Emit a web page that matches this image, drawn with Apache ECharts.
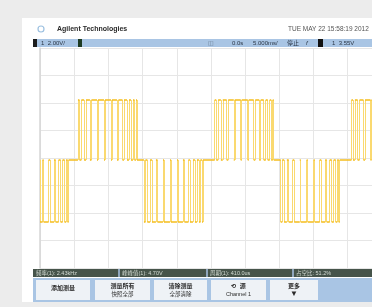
<!DOCTYPE html>
<html>
<head>
<meta charset="utf-8">
<script src="https://cdn.jsdelivr.net/npm/echarts@6/dist/echarts.min.js"></script>
<style>html,body{margin:0;padding:0;background:#ececec}#c{width:372px;height:307px}</style>
</head>
<body>
<div id="c"></div>
<script>
// ---- data (time in divisions, voltage in divisions) ----
const timeMin = 0;
const timeMax = 9.71;
const voltMin = -4;
const voltMax = 4;
const highLevel = 2.11;
const zeroLevel = -0.07;
const lowLevel = -2.33;

const negPulses1 = [[0,0.076],[0.105,0.251],[0.295,0.412],[0.456,0.544],[0.602,0.661],[0.719,0.763],[0.807,0.836]];
const posPulses2 = [[1.11,1.155],[1.21,1.29],[1.345,1.46],[1.505,1.667],[1.696,1.871],[1.90,2.076],[2.105,2.251],[2.295,2.412],[2.456,2.544],[2.602,2.661],[2.719,2.763],[2.807,2.836]];
const negPulses3 = [[3.04,3.085],[3.14,3.22],[3.275,3.39],[3.435,3.597],[3.626,3.801],[3.83,4.006],[4.035,4.181],[4.225,4.342],[4.386,4.474],[4.532,4.591],[4.649,4.693],[4.737,4.766]];
const posPulses4 = [[5.11,5.155],[5.21,5.29],[5.345,5.46],[5.505,5.667],[5.696,5.871],[5.90,6.076],[6.105,6.251],[6.295,6.412],[6.456,6.544],[6.602,6.661],[6.719,6.763],[6.807,6.836]];
const negPulses5 = [[7.04,7.085],[7.14,7.22],[7.275,7.39],[7.435,7.597],[7.626,7.801],[7.83,8.006],[8.035,8.181],[8.225,8.342],[8.386,8.474],[8.532,8.591],[8.649,8.693],[8.737,8.766]];
const posPulses6 = [[9.11,9.155],[9.21,9.29],[9.345,9.46],[9.505,9.667],[9.696,9.871]];

const headerTitle = 'Agilent Technologies';
const headerDate = 'TUE MAY 22 15:58:19 2012';
const statusTexts = ['频率(1): 2.43kHz', '峰峰值(1): 4.70V', '周期(1): 410.0us', '占空比: 51.2%'];
const softkeyTexts = [['添加测量'], ['测量所有', '快照全部'], ['清除测量', '全部清除'], ['⟲  源', 'Channel 1'], ['更多', '▼']];

// ---- build marks ----
const groups = [
  [negPulses1, lowLevel], [posPulses2, highLevel], [negPulses3, lowLevel],
  [posPulses4, highLevel], [negPulses5, lowLevel], [posPulses6, highLevel]
];
const pulses = [];
groups.forEach(([arr, lvl]) => arr.forEach(p => pulses.push([p[0], p[1], lvl])));
const vertical = [], horizontal = [];
let prev = timeMin;
pulses.forEach(([s, e, lvl]) => {
  if (s > prev) horizontal.push({coords: [[prev, zeroLevel], [s, zeroLevel]]});
  horizontal.push({coords: [[s, lvl], [e, lvl]]});
  vertical.push({coords: [[s, zeroLevel], [s, lvl]]});
  vertical.push({coords: [[e, zeroLevel], [e, lvl]]});
  prev = e;
});
if (prev < timeMax) horizontal.push({coords: [[prev, zeroLevel], [timeMax, zeroLevel]]});

const F = '"Liberation Sans","Noto Sans CJK SC",sans-serif';
const blue = '#a9c5e4';
const graphics = [
  {type:'rect', z:-10, shape:{x:22,y:18,width:350,height:284}, style:{fill:'#ffffff'}},
  {type:'circle', shape:{cx:41,cy:29,r:3}, style:{fill:'none', stroke:'#9cc0e0', lineWidth:1.2}},
  {type:'text', x:57, y:29, style:{text:headerTitle, font:'bold 7px '+F, fill:'#2a2a2a', verticalAlign:'middle'}},
  {type:'text', x:288, y:29, style:{text:headerDate, font:'6.5px '+F, fill:'#555', verticalAlign:'middle'}},
  {type:'rect', shape:{x:33,y:39,width:339,height:8}, style:{fill:blue}},
  {type:'rect', shape:{x:33,y:39,width:4,height:8}, style:{fill:'#1c1c1c'}},
  {type:'text', x:41, y:43, style:{text:'1  2.00V/', font:'6px '+F, fill:'#2a3646', verticalAlign:'middle'}},
  {type:'rect', shape:{x:78,y:39,width:4,height:8}, style:{fill:'#1d3a22'}},
  {type:'text', x:208, y:43, style:{text:'◫', font:'6px '+F, fill:'#6a7d92', verticalAlign:'middle'}},
  {type:'text', x:232, y:43, style:{text:'0.0s', font:'6px '+F, fill:'#2a3646', verticalAlign:'middle'}},
  {type:'text', x:253, y:43, style:{text:'5.000ms/', font:'6px '+F, fill:'#2a3646', verticalAlign:'middle'}},
  {type:'text', x:287, y:43, style:{text:'停止', font:'6px '+F, fill:'#2a3646', verticalAlign:'middle'}},
  {type:'text', x:306, y:43, style:{text:'f', font:'italic 6px '+F, fill:'#2a3646', verticalAlign:'middle'}},
  {type:'rect', shape:{x:318,y:39,width:5,height:8}, style:{fill:'#111'}},
  {type:'text', x:332, y:43, style:{text:'1  3.55V', font:'6px '+F, fill:'#2a3646', verticalAlign:'middle'}},
  {type:'rect', shape:{x:33,y:269,width:339,height:8}, style:{fill:'#46544a'}},
  {type:'rect', shape:{x:33,y:278,width:339,height:24}, style:{fill:blue}}
];
[118, 206, 292].forEach(x => graphics.push({type:'rect', shape:{x:x,y:269,width:2,height:8}, style:{fill:'#8fa6bd'}}));
[36, 122, 210, 296].forEach((x, i) => graphics.push({type:'text', x:x, y:273, style:{text:statusTexts[i], font:'5.5px '+F, fill:'#d4dcd4', verticalAlign:'middle'}}));
const keys = [[36,54],[95,55],[154,53],[211,55],[270,48]];
keys.forEach(([x, w], i) => {
  graphics.push({type:'rect', shape:{x:x,y:280,width:w,height:20}, style:{fill:'#eef2f6'}});
  const t = softkeyTexts[i];
  if (t.length === 1) {
    graphics.push({type:'text', x:x+w/2, y:288, style:{text:t[0], font:'bold 6px '+F, fill:'#2a2a2a', align:'center', verticalAlign:'middle'}});
  } else {
    graphics.push({type:'text', x:x+w/2, y:286, style:{text:t[0], font:'bold 6px '+F, fill:'#2a2a2a', align:'center', verticalAlign:'middle'}});
    graphics.push({type:'text', x:x+w/2, y:294, style:{text:t[1], font:(i===4?'bold 8px ':'5.5px ')+F, fill:'#2a2a2a', align:'center', verticalAlign:'middle'}});
  }
});

const chart = echarts.init(document.getElementById('c'), null, {renderer:'canvas'});
chart.setOption({
  backgroundColor: '#ececec',
  animation: false,
  graphic: graphics,
  grid: {left:40, right:0, top:48, bottom:39, show:false},
  xAxis: {type:'value', min:timeMin, max:timeMax, interval:1,
    axisLabel:{show:false}, axisTick:{show:false}, axisLine:{show:false},
    splitLine:{show:true, lineStyle:{color:'#e6e6e6', width:1}}},
  yAxis: {type:'value', min:voltMin, max:voltMax, interval:1,
    axisLabel:{show:false}, axisTick:{show:false},
    axisLine:{show:true, lineStyle:{color:'#d6d6d6', width:1.5}},
    splitLine:{show:true, lineStyle:{color:'#e6e6e6', width:1}}},
  series: [
    {type:'lines', coordinateSystem:'cartesian2d', data:vertical, silent:true,
      lineStyle:{color:'#fad970', width:1, opacity:1}, z:3},
    {type:'lines', coordinateSystem:'cartesian2d', data:horizontal, silent:true,
      lineStyle:{color:'#f4bd1c', width:1.6, opacity:1}, z:4}
  ]
});
</script>
</body>
</html>
